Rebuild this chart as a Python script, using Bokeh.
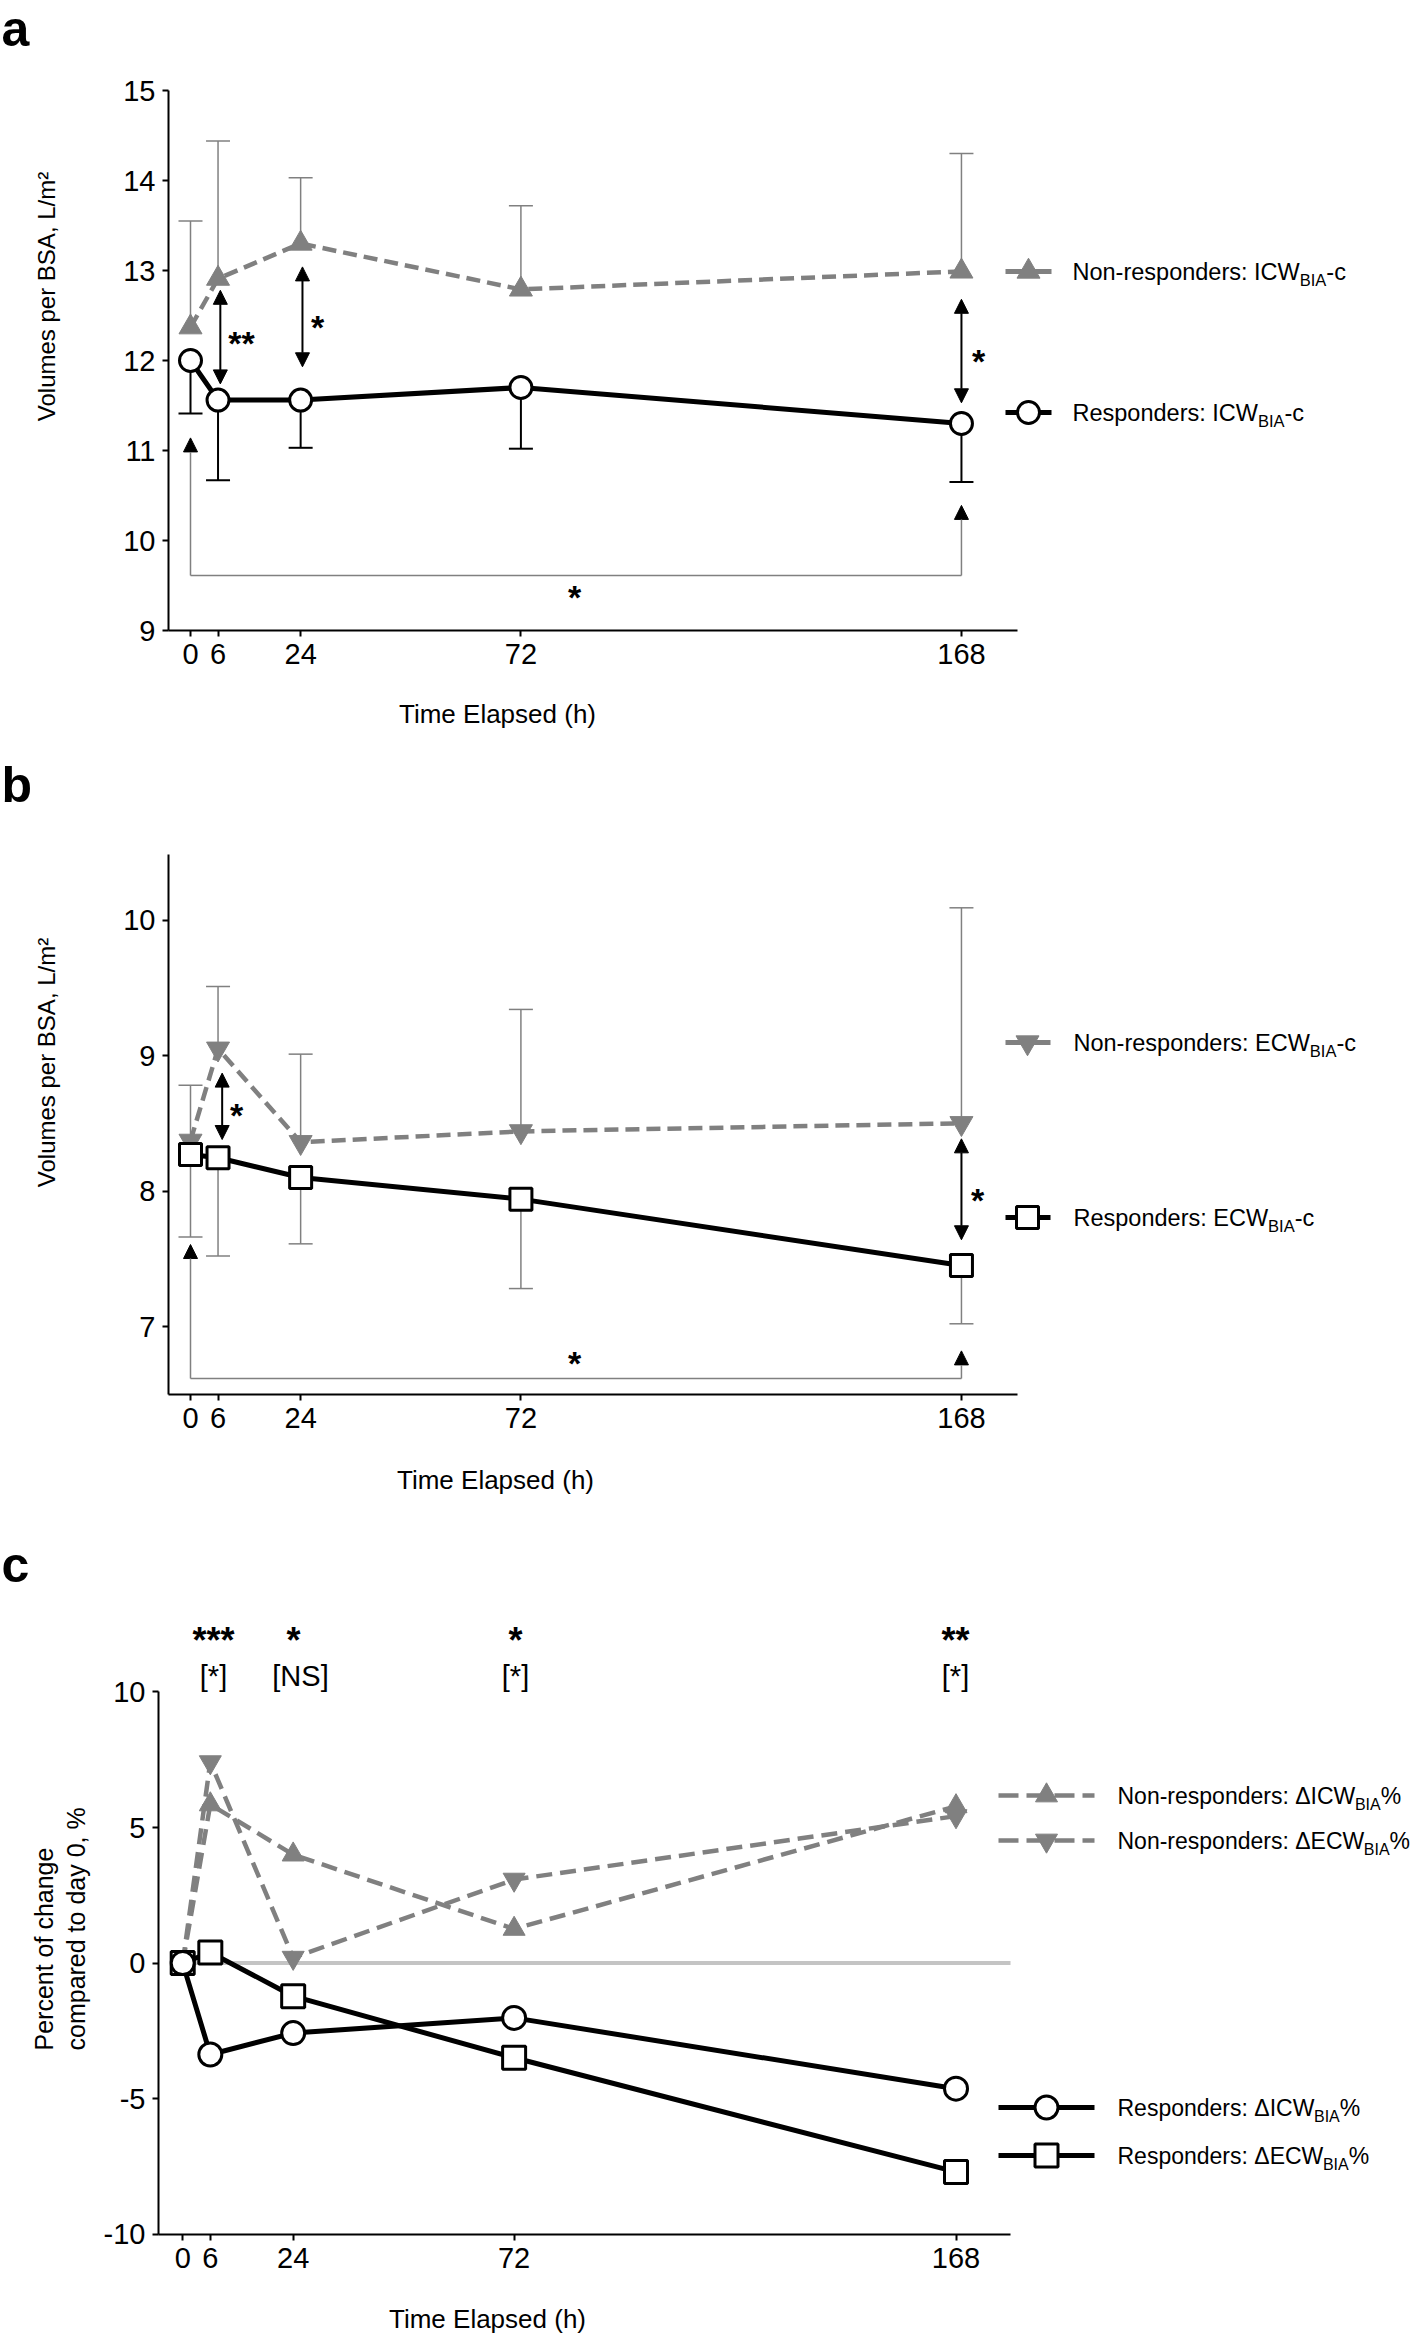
import math
from bokeh.plotting import figure
from bokeh.layouts import column
from bokeh.models import Range1d, FixedTicker, Arrow, NormalHead, LinearAxis
from bokeh.core.properties import value
from bokeh.embed import file_html
from bokeh.resources import INLINE

# ---------------- data ----------------
hours = [0, 6, 24, 72, 168]
x_ticks = [0, 6, 24, 72, 168]

# panel a : ICW_BIA-c (L/m2)
a_nonresp_icw = [12.37, 12.91, 13.30, 12.79, 12.99]
a_nonresp_icw_upper = [13.55, 14.44, 14.03, 13.72, 14.30]
a_resp_icw = [12.00, 11.56, 11.56, 11.70, 11.30]
a_resp_icw_lower = [11.41, 10.67, 11.03, 11.02, 10.65]
a_y_ticks = [9, 10, 11, 12, 13, 14, 15]

# panel b : ECW_BIA-c (L/m2)
b_nonresp_ecw = [8.37, 9.05, 8.36, 8.44, 8.50]
b_nonresp_ecw_upper = [8.78, 9.51, 9.01, 9.34, 10.09]
b_resp_ecw = [8.27, 8.245, 8.10, 7.94, 7.45]
b_resp_ecw_lower = [7.66, 7.52, 7.61, 7.28, 7.02]
b_y_ticks = [7, 8, 9, 10]

# panel c : percent change vs day 0
c_nonresp_dicw = [0.0, 5.85, 4.00, 1.26, 5.78]
c_nonresp_decw = [0.0, 7.41, 0.20, 3.08, 5.42]
c_resp_dicw = [0.0, -3.37, -2.58, -2.02, -4.63]
c_resp_decw = [0.0, 0.39, -1.22, -3.49, -7.70]
c_y_ticks = [-10, -5, 0, 5, 10]

# legends: (main text, subscript, suffix)
legend_a = [("Non-responders: ICW", "BIA", "-c"), ("Responders: ICW", "BIA", "-c")]
legend_b = [("Non-responders: ECW", "BIA", "-c"), ("Responders: ECW", "BIA", "-c")]
legend_c = [("Non-responders: \u0394ICW", "BIA", "%"), ("Non-responders: \u0394ECW", "BIA", "%"),
            ("Responders: \u0394ICW", "BIA", "%"), ("Responders: \u0394ECW", "BIA", "%")]

# significance: double arrows between groups (x, top tip, bottom tip, mark)
a_pair_x = [6.5, 24.4, 168]
a_pair_top = [12.78, 13.04, 12.68]
a_pair_bot = [11.74, 11.93, 11.53]
a_pair_mark = ["**", "*", "*"]
a_bracket = (9.61, 11.14, 10.39)   # base level, left tip, right tip
b_pair_x = [6.9, 168]
b_pair_top = [8.87, 8.385]
b_pair_bot = [8.38, 7.64]
b_pair_mark = ["*", "*"]
b_bracket = (6.616, 7.605, 6.82)
c_mark_top = ["***", "*", "*", "**"]
c_mark_bottom = ["[*]", "[NS]", "[*]", "[*]"]

# ---------------- style ----------------
GRAY = "#808080"
FONT = "Liberation Sans"
W = 1416
MID = 0.3465   # distance (em) from alphabetic baseline up to the em-box middle

ARIAL = {' ': 278, '%': 889, '(': 333, ')': 333, '*': 389, ',': 278, '-': 333, ':': 278,
         'A': 667, 'B': 667, 'C': 722, 'E': 667, 'I': 278, 'N': 722, 'R': 722, 'W': 944,
         'c': 500, 'd': 556, 'e': 556, 'n': 556, 'o': 556, 'p': 556, 'r': 333, 's': 500,
         '\u0394': 652}


def tw(s, fs):
    return sum(ARIAL.get(ch, 556) for ch in s) * fs / 1000.0


def style_axis(ax):
    ax.axis_line_color = "black"
    ax.axis_line_width = 2
    ax.major_tick_line_color = "black"
    ax.major_tick_line_width = 2
    ax.major_tick_out = 6
    ax.major_tick_in = 0
    ax.minor_tick_line_color = None
    ax.major_label_text_font = FONT
    ax.major_label_text_font_size = "29px"
    ax.major_label_text_color = "black"
    ax.major_label_standoff = 7


def make_fig(height, top_px, hx, vy, axis_x_px, axis_y_px, xb, yb, yticks):
    # the frame covers the whole figure; axes are pinned at fixed data locations
    p = figure(width=W, height=height, output_backend="svg", toolbar_location=None, tools="",
               title=None, x_axis_location=None, y_axis_location=None,
               x_range=Range1d(hx(0), hx(W)),
               y_range=Range1d(vy(top_px + height), vy(top_px)),
               min_border_left=0, min_border_right=0, min_border_top=0, min_border_bottom=0)
    p.outline_line_color = None
    p.background_fill_color = "white"
    p.border_fill_color = "white"
    xa = LinearAxis(fixed_location=vy(axis_y_px), ticker=FixedTicker(ticks=x_ticks), bounds=xb)
    ya = LinearAxis(fixed_location=hx(axis_x_px), ticker=FixedTicker(ticks=yticks), bounds=yb)
    style_axis(xa)
    style_axis(ya)
    ya.major_label_overrides = {t: str(t) for t in yticks}
    p.add_layout(xa, "below")
    p.add_layout(ya, "left")
    p.grid.visible = False
    return p


def errbars(p, ys, ends, color, lw):
    p.segment(x0=hours, y0=ys, x1=hours, y1=ends, line_color=color, line_width=lw)
    p.scatter(x=hours, y=ends, marker="dash", size=24, line_color=color, line_width=lw)


def txt(p, x, y, s, fs, align="center", style="normal", angle=0.0):
    p.text(x=[x], y=[y], text=[s], text_font=value(FONT), text_font_size=fs,
           text_align=align, text_baseline="middle", text_color="black",
           text_font_style=style, angle=angle)


def star(p, hx, vy, cx, cy, s, fs=34):
    # cx, cy: visual centre of the asterisks (page px); asterisk centre sits 0.575em above baseline
    txt(p, hx(cx), vy(cy + (0.575 - MID) * fs), s, "%dpx" % fs, style="bold")


def bracket_mark(p, hx, vy, cx, cy, s, fs=29):
    # bracket glyph centre sits ~0.26em above baseline
    txt(p, hx(cx), vy(cy + (0.26 - MID) * fs), s, "%dpx" % fs)


def dbl_arrow(p, x, ytop, ybot):
    p.add_layout(Arrow(x_start=x, y_start=ybot, x_end=x, y_end=ytop,
                       start=NormalHead(size=14, fill_color="black", line_color="black"),
                       end=NormalHead(size=14, fill_color="black", line_color="black"),
                       line_color="black", line_width=2))


def bracket(p, base, ltip, rtip):
    p.segment(x0=[hours[0]], y0=[base], x1=[hours[-1]], y1=[base], line_color=GRAY, line_width=1.5)
    for xx, tip in ((hours[0], ltip), (hours[-1], rtip)):
        p.add_layout(Arrow(x_start=xx, y_start=base, x_end=xx, y_end=tip,
                           end=NormalHead(size=14, fill_color="black", line_color="black"),
                           line_color=GRAY, line_width=1.5))


def legend_row(p, hx, vy, y_px, x0, x1, xm, tx, marker, size, fill, mline, mlw,
               lcolor, lw, dash, parts, fs, sfs):
    y = vy(y_px)
    p.line(x=[hx(x0), hx(x1)], y=[y, y], line_color=lcolor, line_width=lw, line_dash=dash)
    p.scatter(x=[hx(xm)], y=[y], marker=marker, size=size, fill_color=fill,
              line_color=mline, line_width=mlw)
    base = y_px + 0.358 * fs          # alphabetic baseline of the main text
    main, sub, suf = parts
    cx = tx
    txt(p, hx(cx), vy(base - MID * fs), main, "%.1fpx" % fs, align="left")
    cx += tw(main, fs)
    txt(p, hx(cx), vy(base + 6 - MID * sfs), sub, "%.1fpx" % sfs, align="left")
    cx += tw(sub, sfs)
    txt(p, hx(cx), vy(base - MID * fs), suf, "%.1fpx" % fs, align="left")


def letter(p, hx, vy, s, base_py, fs=50):
    txt(p, hx(1), vy(base_py - MID * fs), s, "%dpx" % fs, align="left", style="bold")


def ytitle(p, hx, vy, cx, cy, s, align="center", fs="24px"):
    txt(p, hx(cx), vy(cy), s, fs, align=align, angle=math.pi / 2)


def xtitle(p, hx, vy, cx, cy):
    txt(p, hx(cx), vy(cy), "Time Elapsed (h)", "26px")


# ---------------- panel a ----------------
hxA = lambda px: (px - 190.0) / 4.589
vyA = lambda py: 9 + (630.0 - py) / 90.0
pa = make_fig(740, 0, hxA, vyA, 168, 630, (hxA(168), hxA(1017)), (9, 15), a_y_ticks)
errbars(pa, a_nonresp_icw, a_nonresp_icw_upper, GRAY, 1.5)
errbars(pa, a_resp_icw, a_resp_icw_lower, "black", 2)
bracket(pa, *a_bracket)
pa.line(hours, a_nonresp_icw, line_color=GRAY, line_width=4.5, line_dash="14 7")
pa.line(hours, a_resp_icw, line_color="black", line_width=5)
pa.scatter(hours, a_nonresp_icw, marker="triangle", size=23, fill_color=GRAY, line_color=GRAY)
pa.scatter(hours, a_resp_icw, marker="circle", size=22, fill_color="white", line_color="black", line_width=3)
for x, t, b in zip(a_pair_x, a_pair_top, a_pair_bot):
    dbl_arrow(pa, x, t, b)
for (cx, cy), m in zip([(241, 335), (317, 319), (978, 353)], a_pair_mark):
    star(pa, hxA, vyA, cx, cy, m)
star(pa, hxA, vyA, 574, 589, "*")
legend_row(pa, hxA, vyA, 271, 1005, 1051, 1028, 1072, "triangle", 23, GRAY, GRAY, 1,
           GRAY, 5, "solid", legend_a[0], 23.5, 16.5)
legend_row(pa, hxA, vyA, 412, 1005, 1051, 1028, 1072, "circle", 22, "white", "black", 3,
           "black", 5, "solid", legend_a[1], 23.5, 16.5)
letter(pa, hxA, vyA, "a", 46)
ytitle(pa, hxA, vyA, 46, 296, "Volumes per BSA, L/m\u00b2")
xtitle(pa, hxA, vyA, 497, 713)

# ---------------- panel b ----------------
hxB = lambda px: (px - 190.0) / 4.589
vyB = lambda py: 7 + (1326.0 - py) / 135.5
pb = make_fig(780, 740, hxB, vyB, 168, 1394, (hxB(168), hxB(1017)), (vyB(1394), vyB(854)), b_y_ticks)
errbars(pb, b_nonresp_ecw, b_nonresp_ecw_upper, GRAY, 1.5)
errbars(pb, b_resp_ecw, b_resp_ecw_lower, GRAY, 1.5)
bracket(pb, *b_bracket)
pb.line(hours, b_nonresp_ecw, line_color=GRAY, line_width=4.5, line_dash="14 7")
pb.line(hours, b_resp_ecw, line_color="black", line_width=5)
pb.scatter(hours, b_nonresp_ecw, marker="inverted_triangle", size=23, fill_color=GRAY, line_color=GRAY)
pb.scatter(hours, b_resp_ecw, marker="square", size=22, fill_color="white", line_color="black", line_width=3)
for x, t, b in zip(b_pair_x, b_pair_top, b_pair_bot):
    dbl_arrow(pb, x, t, b)
for (cx, cy), m in zip([(236, 1107), (977, 1192)], b_pair_mark):
    star(pb, hxB, vyB, cx, cy, m)
star(pb, hxB, vyB, 574, 1355, "*")
legend_row(pb, hxB, vyB, 1042, 1005, 1050, 1027, 1073, "inverted_triangle", 23, GRAY, GRAY, 1,
           GRAY, 5, "solid", legend_b[0], 23.5, 16.5)
legend_row(pb, hxB, vyB, 1217, 1005, 1050, 1027, 1073, "square", 22, "white", "black", 3,
           "black", 5, "solid", legend_b[1], 23.5, 16.5)
letter(pb, hxB, vyB, "b", 802)
ytitle(pb, hxB, vyB, 46, 1062, "Volumes per BSA, L/m\u00b2")
xtitle(pb, hxB, vyB, 495, 1479)

# ---------------- panel c ----------------
hxC = lambda px: (px - 182.2) / 4.603
vyC = lambda py: (1962.6 - py) / 27.12
pc = make_fig(814, 1520, hxC, vyC, 158, 2234, (hxC(158), hxC(1010)), (-10, 10), c_y_ticks)
pc.segment(x0=[hours[0]], y0=[0], x1=[hxC(1010)], y1=[0], line_color="#c4c4c4", line_width=4)
pc.line(hours, c_nonresp_dicw, line_color=GRAY, line_width=4.5, line_dash="16 8")
pc.line(hours, c_nonresp_decw, line_color=GRAY, line_width=4.5, line_dash="16 8")
pc.scatter(hours, c_nonresp_dicw, marker="triangle", size=22, fill_color=GRAY, line_color=GRAY)
pc.scatter(hours, c_nonresp_decw, marker="inverted_triangle", size=22, fill_color=GRAY, line_color=GRAY)
pc.line(hours, c_resp_dicw, line_color="black", line_width=5)
pc.line(hours, c_resp_decw, line_color="black", line_width=5)
pc.scatter(hours, c_resp_decw, marker="square", size=23, fill_color="white", line_color="black", line_width=3)
pc.scatter(hours, c_resp_dicw, marker="circle", size=23, fill_color="white", line_color="black", line_width=3)
for cx, m in zip([213, 293, 515, 955], c_mark_top):
    star(pc, hxC, vyC, cx, 1632, m, fs=36)
for cx, m in zip([213, 300, 515, 955], c_mark_bottom):
    bracket_mark(pc, hxC, vyC, cx, 1678, m)
legend_rows_c = [(1795, "triangle", GRAY, GRAY, 1, GRAY, 4.5, "20 8", 22),
                 (1840, "inverted_triangle", GRAY, GRAY, 1, GRAY, 4.5, "20 8", 22),
                 (2107, "circle", "white", "black", 3, "black", 5, "solid", 23),
                 (2155, "square", "white", "black", 3, "black", 5, "solid", 23)]
for (ypx, mk, fill, ml, mlw, lc, lw, dash, sz), parts in zip(legend_rows_c, legend_c):
    legend_row(pc, hxC, vyC, ypx, 998, 1094, 1046, 1117, mk, sz, fill, ml, mlw,
               lc, lw, dash, parts, 23, 16)
letter(pc, hxC, vyC, "c", 1582)
ytitle(pc, hxC, vyC, 43, 2050, "Percent of change", align="left", fs="25px")
ytitle(pc, hxC, vyC, 75, 2050, "compared to day 0, %", align="left", fs="25px")
xtitle(pc, hxC, vyC, 487, 2318)

layout = column(pa, pb, pc, spacing=0)
open("out.html", "w").write(file_html(layout, INLINE))
